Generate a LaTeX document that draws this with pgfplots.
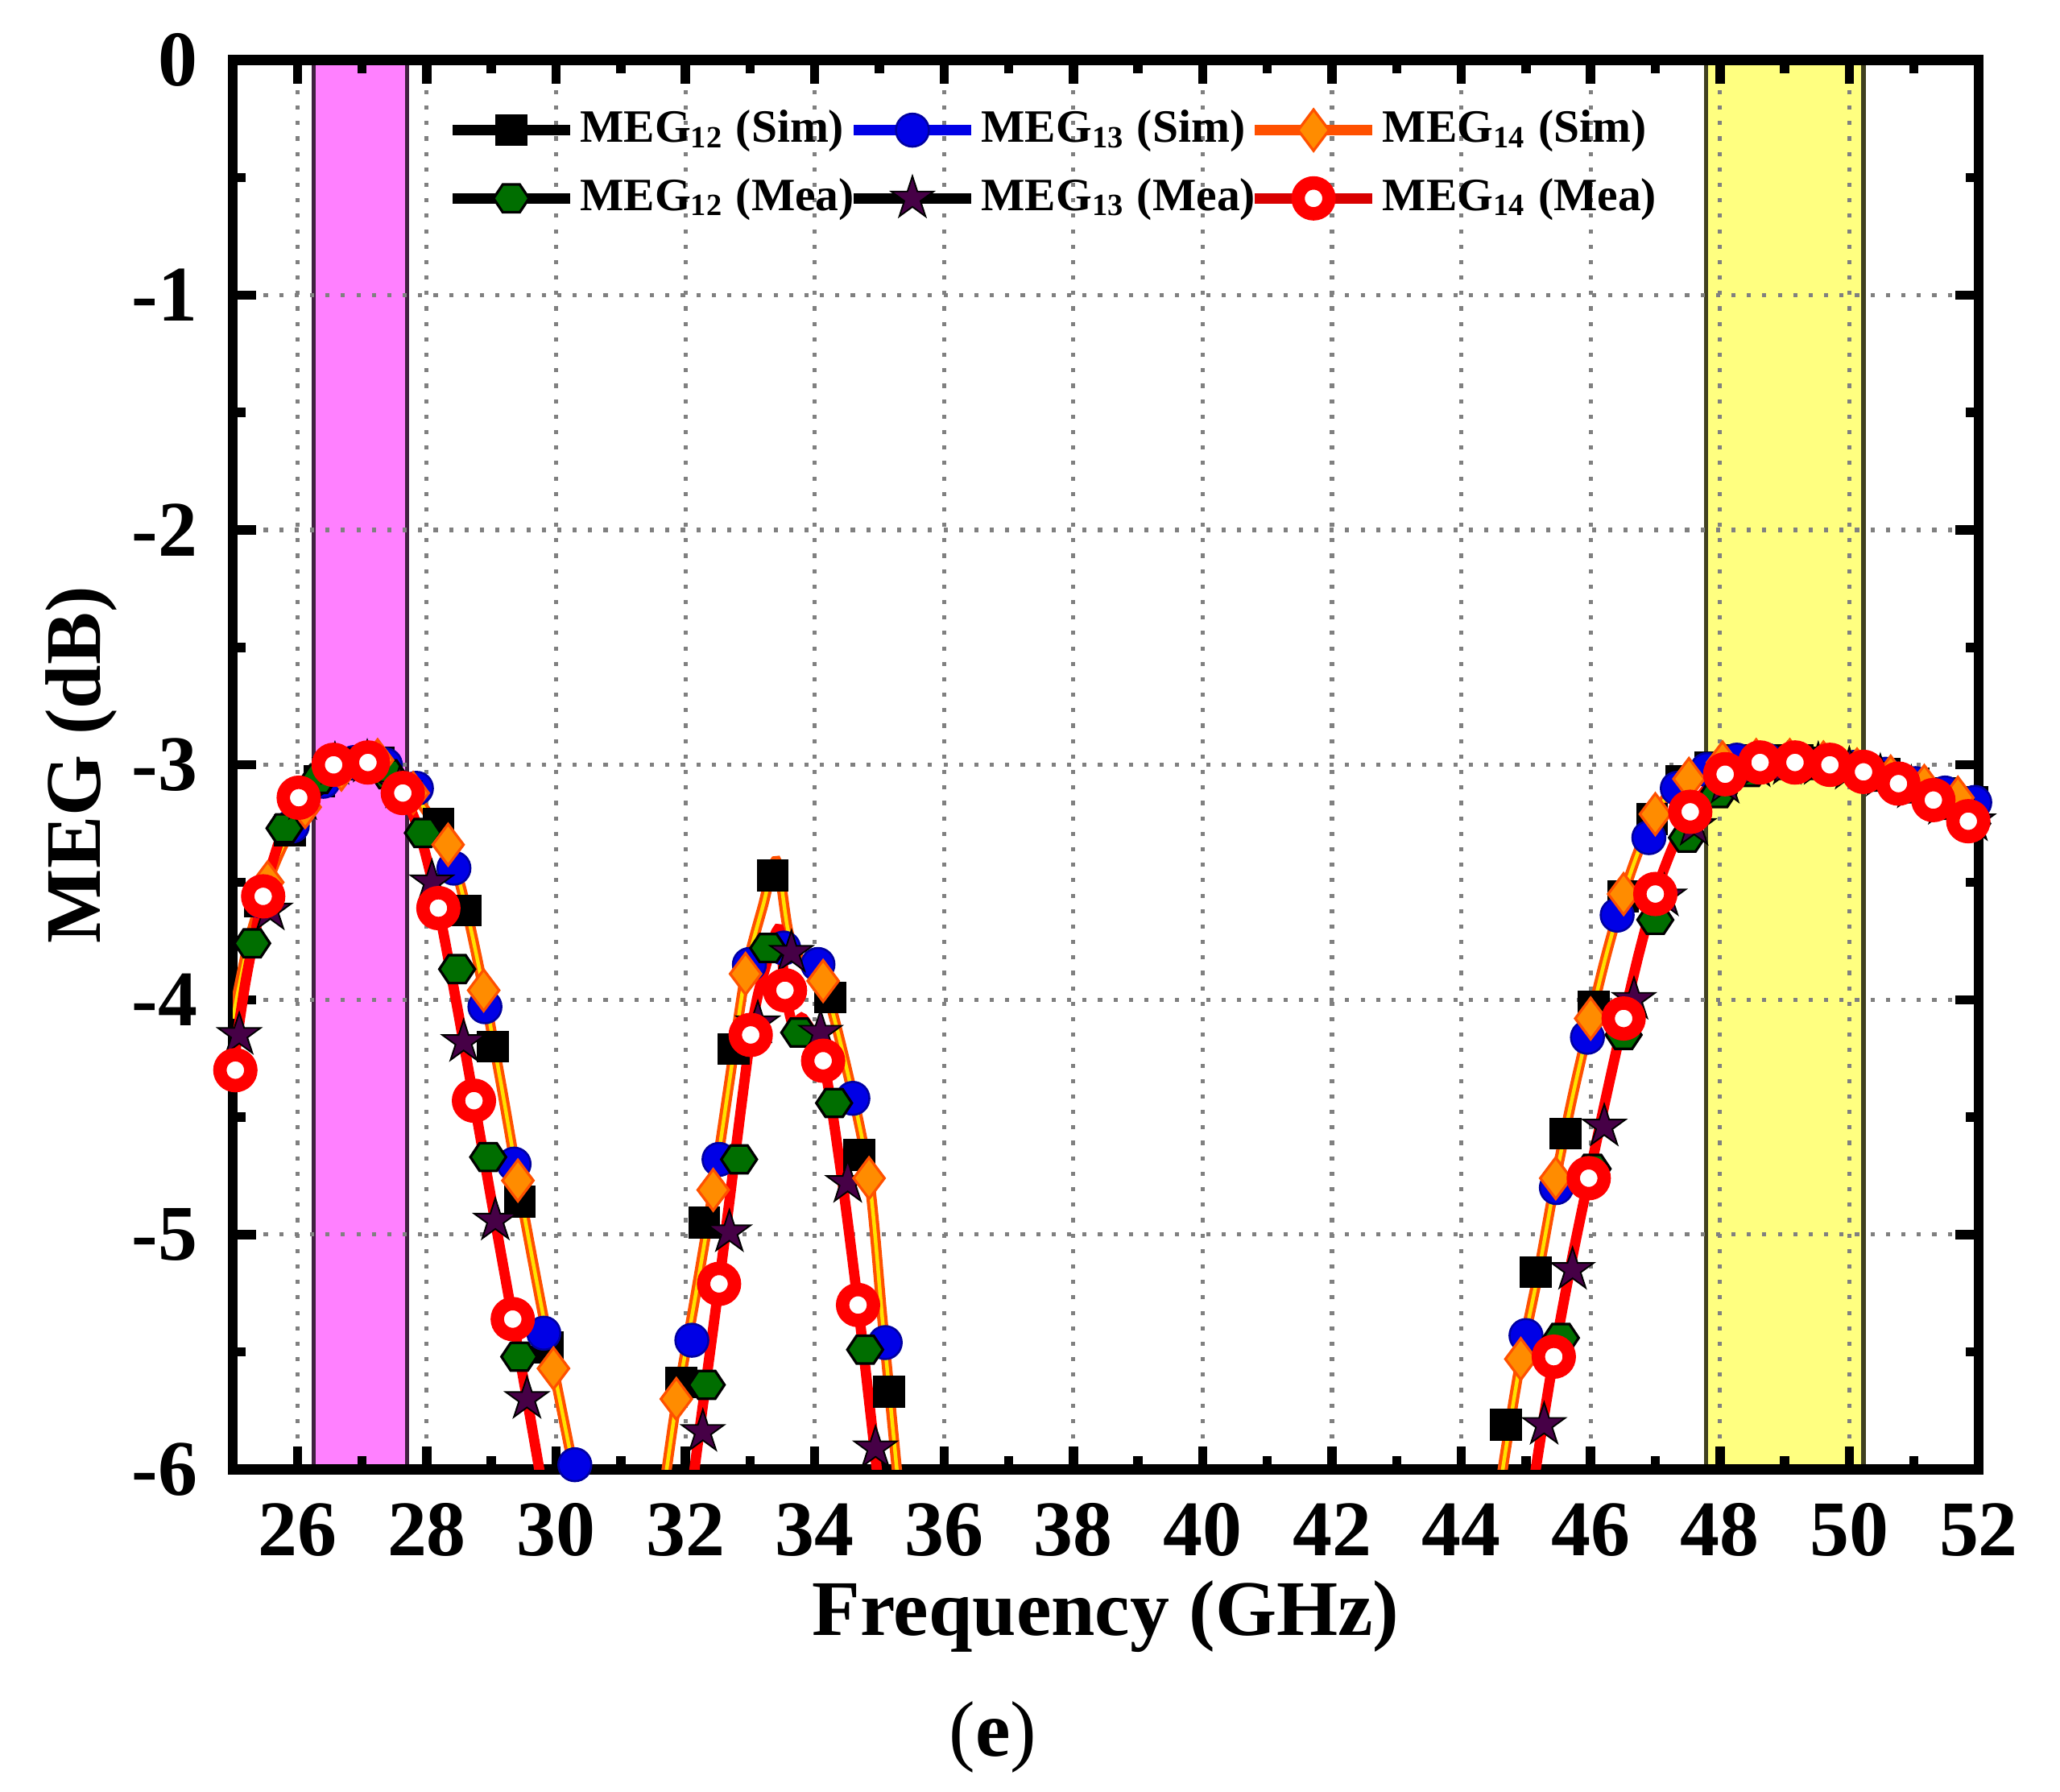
\documentclass[border=0pt]{standalone}
\usepackage{fontspec}
\setmainfont{Liberation Serif}
\usepackage{pgfplots}
\pgfplotsset{compat=1.18}
\usetikzlibrary{plotmarks}
\definecolor{oline}{RGB}{255,80,0}
\definecolor{ofill}{RGB}{255,140,0}
\definecolor{ocore}{RGB}{255,225,0}
\definecolor{bfill}{RGB}{0,0,230}
\definecolor{gfill}{RGB}{0,110,0}
\definecolor{pfill}{RGB}{70,0,70}
\definecolor{mband}{RGB}{255,128,255}
\definecolor{yband}{RGB}{255,255,128}

\pgfdeclareplotmark{hexa*}{%
  \pgfpathmoveto{\pgfqpoint{1.15\pgfplotmarksize}{0pt}}%
  \pgfpathlineto{\pgfqpoint{0.55\pgfplotmarksize}{0.9\pgfplotmarksize}}%
  \pgfpathlineto{\pgfqpoint{-0.55\pgfplotmarksize}{0.9\pgfplotmarksize}}%
  \pgfpathlineto{\pgfqpoint{-1.15\pgfplotmarksize}{0pt}}%
  \pgfpathlineto{\pgfqpoint{-0.55\pgfplotmarksize}{-0.9\pgfplotmarksize}}%
  \pgfpathlineto{\pgfqpoint{0.55\pgfplotmarksize}{-0.9\pgfplotmarksize}}%
  \pgfpathclose\pgfusepathqfillstroke}
\pgfdeclareplotmark{fstar}{%
  \pgfpathmoveto{\pgfqpoint{0pt}{1.2\pgfplotmarksize}}%
  \pgfpathlineto{\pgfqpoint{-0.269\pgfplotmarksize}{0.371\pgfplotmarksize}}%
  \pgfpathlineto{\pgfqpoint{-1.141\pgfplotmarksize}{0.371\pgfplotmarksize}}%
  \pgfpathlineto{\pgfqpoint{-0.436\pgfplotmarksize}{-0.142\pgfplotmarksize}}%
  \pgfpathlineto{\pgfqpoint{-0.706\pgfplotmarksize}{-0.971\pgfplotmarksize}}%
  \pgfpathlineto{\pgfqpoint{0pt}{-0.458\pgfplotmarksize}}%
  \pgfpathlineto{\pgfqpoint{0.706\pgfplotmarksize}{-0.971\pgfplotmarksize}}%
  \pgfpathlineto{\pgfqpoint{0.436\pgfplotmarksize}{-0.142\pgfplotmarksize}}%
  \pgfpathlineto{\pgfqpoint{1.141\pgfplotmarksize}{0.371\pgfplotmarksize}}%
  \pgfpathlineto{\pgfqpoint{0.269\pgfplotmarksize}{0.371\pgfplotmarksize}}%
  \pgfpathclose\pgfusepathqfillstroke}

\pgfplotsset{
 s12/.style={black, mark=square*, mark size=2.9pt, mark options={solid, fill=black, draw=black, line width=0.4pt}},
 s13/.style={bfill, mark=*, mark size=3.2pt, mark options={solid, fill=bfill, draw=bfill!70!black, line width=0.4pt}},
 s14/.style={oline, mark=diamond*, mark size=4.0pt, mark options={solid, fill=ofill, draw=oline, line width=0.5pt}},
 m12/.style={black, mark=hexa*, mark size=3.0pt, mark options={solid, fill=gfill, draw=black, line width=0.5pt}},
 m13/.style={black, mark=fstar, mark size=3.6pt, mark options={solid, fill=pfill, draw=black, line width=0.3pt}},
 m14/.style={red, mark=*, mark size=3.0pt, mark options={solid, fill=white, draw=red, line width=2.6pt}},
 oln/.style={oline, line width=2pt, smooth, no marks, forget plot, postaction={draw=ocore, line width=0.7pt}},
 rln/.style={red, line width=2pt, smooth, no marks, forget plot},
}

\begin{document}
\begin{tikzpicture}
\begin{axis}[
 name=ax, scale only axis, width=339pt, height=273.6pt,
 xmin=25, xmax=52, ymin=-6, ymax=0,
 xtick={26,28,...,52}, ytick={-6,-5,...,0},
 xticklabels={26,28,30,32,34,36,38,40,42,44,46,48,50,52},
 yticklabels={-6,-5,-4,-3,-2,-1,0},
 minor x tick num=1, minor y tick num=1,
 tick align=inside, xtick pos=both, ytick pos=both,
 xticklabel pos=lower, yticklabel pos=left,
 major tick length=4.5pt, minor tick length=2.5pt,
 tick style={black, line width=1.8pt},
 axis line style={black, line width=2pt},
 grid=major, major grid style={black!50, line width=0.8pt, dash pattern=on 0.8pt off 2.2pt},
 set layers,
 ticklabel style={font=\fontsize{15.3}{18}\selectfont\bfseries},
 xticklabel style={anchor=base, yshift=-16.8pt, inner sep=0pt},
 yticklabel style={anchor=east, xshift=-6.7pt, inner sep=0pt},
 xlabel={Frequency (GHz)}, ylabel={MEG (dB)},
 every axis x label/.style={at={([yshift=-32.2pt]axis description cs:0.5,0)}, anchor=base, font=\fontsize{15.3}{18}\selectfont\bfseries},
 every axis y label/.style={at={([xshift=-25.7pt]axis description cs:0,0.5)}, rotate=90, anchor=base, font=\fontsize{15.3}{18}\selectfont\bfseries},
 legend columns=3,
 legend cell align=left,
 legend image code/.code={\draw[mark repeat=2, mark phase=2, #1] plot coordinates {(0cm,0cm) (0.4cm,0cm) (0.8cm,0cm)};},
 legend style={at={(axis description cs:0.1224,1)}, anchor=north west, yshift=-8.5pt, draw=none, fill=none, inner sep=0pt, font=\fontsize{9}{10}\selectfont\bfseries, row sep=3.5pt, nodes={inner sep=1pt}, /tikz/every even column/.append style={column sep=-2.1pt}},
]
\coordinate (bl) at (rel axis cs:0,0);
\coordinate (tr) at (rel axis cs:1,1);

\addlegendimage{s12, line width=2pt}
\addlegendentry{MEG\textsubscript{12} (Sim)}
\addlegendimage{s13, line width=2pt}
\addlegendentry{MEG\textsubscript{13} (Sim)}
\addlegendimage{s14, line width=2pt}
\addlegendentry{MEG\textsubscript{14} (Sim)}
\addlegendimage{m12, line width=2pt}
\addlegendentry{MEG\textsubscript{12} (Mea)}
\addlegendimage{m13, line width=2pt}
\addlegendentry{MEG\textsubscript{13} (Mea)}
\addlegendimage{m14, line width=2pt, color=red!85!black}
\addlegendentry{MEG\textsubscript{14} (Mea)}

% shaded bands
\addplot[on layer=axis background, fill=mband, draw=black!75!mband, line width=0.8pt, forget plot]
 coordinates {(26.25,-6) (26.25,0) (27.7,0) (27.7,-6)};
\addplot[on layer=axis background, fill=yband, draw=black!75!yband, line width=0.8pt, forget plot]
 coordinates {(47.79,-6) (47.79,0) (50.22,0) (50.22,-6)};

% MEG12 (Sim)
\addplot[s12, only marks, forget plot] coordinates {
 (25.42,-3.58)(25.88,-3.28)(26.34,-3.07)(26.80,-3.0)(27.26,-2.99)(27.72,-3.10)(28.18,-3.25)(28.60,-3.62)(29.02,-4.20)(29.44,-4.86)(29.87,-5.48)(30.30,-6.05)
 (31.94,-5.63)(32.29,-4.95)(32.75,-4.21)(33.35,-3.47)(34.24,-3.99)(34.69,-4.66)(35.15,-5.67)
 (44.69,-5.81)(45.15,-5.16)(45.61,-4.57)(46.05,-4.03)(46.50,-3.56)(46.95,-3.23)(47.40,-3.07)(47.85,-3.01)(48.30,-2.98)(48.75,-2.98)(49.20,-2.98)(49.65,-2.99)(50.10,-3.01)(50.55,-3.04)(51.00,-3.08)(51.45,-3.12)(51.90,-3.16)};
% MEG13 (Sim)
\addplot[s13, only marks, forget plot] coordinates {
 (25.44,-3.58)(25.92,-3.26)(26.40,-3.07)(26.88,-2.99)(27.36,-3.0)(27.84,-3.10)(28.42,-3.44)(28.90,-4.03)(29.35,-4.70)(29.81,-5.42)(30.29,-5.98)
 (32.10,-5.45)(32.52,-4.68)(32.99,-3.85)(33.52,-3.78)(34.05,-3.85)(34.59,-4.42)(35.09,-5.46)
 (45.0,-5.43)(45.47,-4.80)(45.95,-4.16)(46.41,-3.64)(46.90,-3.31)(47.34,-3.10)(47.80,-3.02)(48.26,-2.98)(48.72,-2.98)(49.18,-2.98)(49.64,-2.99)(50.10,-3.01)(50.56,-3.04)(51.02,-3.08)(51.48,-3.12)(51.94,-3.16)};
% MEG12 (Mea)
\addplot[m12, only marks, forget plot] coordinates {
 (25.30,-3.76)(25.80,-3.27)(26.33,-3.06)(26.86,-2.99)(27.40,-3.04)(27.94,-3.29)(28.47,-3.87)(28.95,-4.67)(29.43,-5.52)
 (32.33,-5.64)(32.83,-4.68)(33.28,-3.78)(33.76,-4.14)(34.30,-4.44)(34.78,-5.49)
 (45.54,-5.44)(46.03,-4.72)(46.51,-4.15)(47.0,-3.66)(47.49,-3.31)(47.98,-3.12)(48.47,-3.03)(48.96,-3.0)(49.45,-3.0)(49.94,-3.01)(50.43,-3.05)(50.92,-3.10)(51.41,-3.17)(51.90,-3.25)};
% MEG13 (Mea)
\addplot[m13, only marks, forget plot] coordinates {
 (25.10,-4.15)(25.58,-3.62)(26.08,-3.15)(26.58,-3.0)(27.08,-2.99)(27.58,-3.10)(28.08,-3.50)(28.57,-4.18)(29.06,-4.94)(29.55,-5.70)
 (32.27,-5.84)(32.68,-4.99)(33.12,-4.10)(33.64,-3.80)(34.09,-4.14)(34.51,-4.78)(34.94,-5.91)
 (45.28,-5.81)(45.72,-5.15)(46.21,-4.54)(46.67,-4.0)(47.14,-3.56)(47.60,-3.26)(48.08,-3.08)(48.56,-3.01)(49.04,-3.0)(49.52,-3.0)(50.0,-3.02)(50.48,-3.05)(50.96,-3.10)(51.44,-3.17)(51.92,-3.24)};

% MEG14 (Sim) line
\addplot[oln] coordinates {(25,-4.08)(25.25,-3.75)(25.54,-3.50)(25.8,-3.33)(26.12,-3.18)(26.4,-3.08)(26.68,-3.02)(27.0,-2.98)(27.24,-2.98)(27.5,-3.03)(27.79,-3.12)(28.05,-3.22)(28.33,-3.34)(28.6,-3.6)(28.88,-3.96)(29.15,-4.36)(29.41,-4.77)(29.7,-5.2)(29.96,-5.57)(30.27,-6.0)(30.5,-6.35)};
\addplot[oln] coordinates {(31.55,-6.3)(31.71,-6.0)(31.86,-5.72)(32.15,-5.27)(32.43,-4.81)(32.68,-4.35)(32.93,-3.89)(33.2,-3.6)(33.41,-3.41)(33.6,-3.72)(33.85,-3.86)(34.13,-3.92)(34.5,-4.3)(34.84,-4.76)(35.05,-5.37)(35.27,-6.0)(35.4,-6.35)};
\addplot[oln] coordinates {(44.5,-6.3)(44.64,-6.0)(44.92,-5.53)(45.2,-5.15)(45.46,-4.76)(45.73,-4.4)(46.0,-4.08)(46.25,-3.8)(46.51,-3.55)(46.75,-3.36)(47.0,-3.21)(47.25,-3.11)(47.52,-3.06)(47.8,-3.02)(48.1,-2.99)(48.5,-2.98)(49.0,-2.98)(49.5,-2.99)(50.0,-3.01)(50.5,-3.04)(51.0,-3.08)(51.5,-3.12)(52.0,-3.17)};
% MEG14 (Sim) marks
\addplot[s14, only marks, forget plot] coordinates {
 (25.54,-3.50)(26.12,-3.18)(26.68,-3.02)(27.24,-2.98)(27.79,-3.12)(28.33,-3.34)(28.88,-3.96)(29.41,-4.77)(29.96,-5.57)
 (31.86,-5.70)(32.43,-4.81)(32.93,-3.89)(34.13,-3.92)(34.84,-4.76)
 (44.92,-5.53)(45.46,-4.76)(46.0,-4.08)(46.51,-3.55)(47.0,-3.21)(47.52,-3.06)(48.04,-2.99)(48.56,-2.98)(49.08,-2.98)(49.60,-2.99)(50.12,-3.02)(50.64,-3.05)(51.16,-3.09)(51.68,-3.14)};

% MEG14 (Mea) line
\addplot[rln] coordinates {(25.0,-4.30)(25.2,-3.92)(25.47,-3.56)(25.75,-3.30)(26.02,-3.14)(26.3,-3.05)(26.56,-3.0)(26.82,-2.98)(27.09,-2.99)(27.35,-3.04)(27.63,-3.12)(27.9,-3.30)(28.18,-3.61)(28.45,-4.0)(28.73,-4.43)(29.03,-4.9)(29.33,-5.36)(29.55,-5.70)(29.74,-6.0)(29.95,-6.35)};
\addplot[rln] coordinates {(32.0,-6.35)(32.14,-6.0)(32.52,-5.21)(33.01,-4.15)(33.25,-3.85)(33.45,-3.70)(33.54,-3.96)(33.68,-4.12)(33.82,-4.08)(34.13,-4.26)(34.4,-4.72)(34.67,-5.30)(34.96,-6.0)(35.1,-6.35)};
\addplot[rln] coordinates {(45.0,-6.3)(45.15,-6.0)(45.43,-5.52)(45.7,-5.12)(45.97,-4.76)(46.25,-4.4)(46.51,-4.08)(46.75,-3.8)(47.0,-3.55)(47.27,-3.35)(47.54,-3.20)(47.8,-3.1)(48.08,-3.04)(48.35,-3.01)(48.62,-2.99)(49.16,-2.99)(49.70,-3.0)(50.22,-3.03)(50.76,-3.08)(51.30,-3.15)(51.84,-3.24)(52.0,-3.28)};
% MEG14 (Mea) marks
\addplot[m14, only marks, forget plot] coordinates {
 (25.04,-4.30)(25.47,-3.56)(26.02,-3.14)(26.56,-3.0)(27.09,-2.99)(27.63,-3.12)(28.18,-3.61)(28.73,-4.43)(29.33,-5.36)
 (32.52,-5.21)(33.01,-4.15)(33.54,-3.96)(34.13,-4.26)(34.67,-5.30)
 (45.43,-5.52)(45.97,-4.76)(46.51,-4.08)(47.0,-3.55)(47.54,-3.20)(48.08,-3.04)(48.62,-2.99)(49.16,-2.99)(49.70,-3.0)(50.22,-3.03)(50.76,-3.08)(51.30,-3.15)(51.84,-3.24)};
\end{axis}
\node[anchor=base, font=\fontsize{15.3}{18}\selectfont] at ([xshift=147.6pt, yshift=-55.7pt]bl) {(\textbf{e})};
\pgfresetboundingbox
\useasboundingbox ([xshift=-45.2pt, yshift=-62.6pt]bl) rectangle ([xshift=15.8pt, yshift=11.7pt]tr);
\end{tikzpicture}
\end{document}
